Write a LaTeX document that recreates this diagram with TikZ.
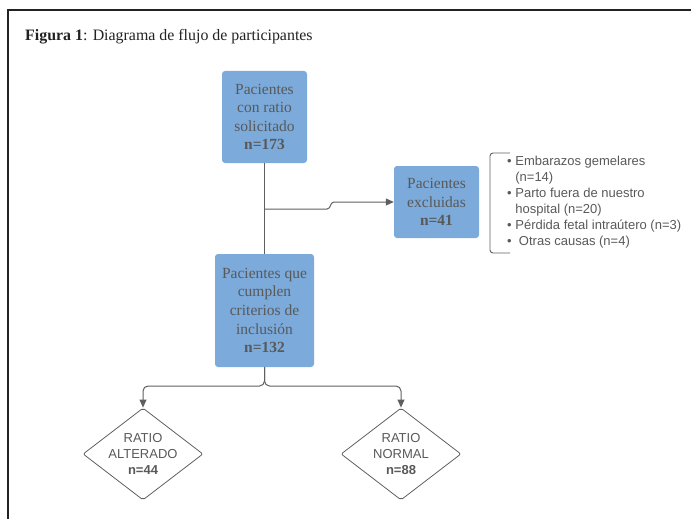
\documentclass[tikz,border=0pt]{standalone}
\usepackage{fontspec}
\setmainfont{Liberation Serif}
\setsansfont{Liberation Sans}
\usetikzlibrary{arrows.meta,positioning,shapes.geometric}
\definecolor{flowInk}{HTML}{222222}
\definecolor{flowBlue}{HTML}{7BAADB}
\definecolor{flowText}{HTML}{595959}
\definecolor{flowGray}{HTML}{5F5F5F}
\tikzset{
  every picture/.style={text=flowText},
  flow box/.style={fill=flowBlue, draw=none, rounded corners=3pt, align=center,
    inner sep=0pt, font=\rmfamily\fontsize{15.5}{18.6}\selectfont},
  flow diamond/.style={diamond, draw=flowGray, line width=0.8pt, rounded corners=2pt,
    inner sep=0pt, minimum width=120pt, minimum height=92pt},
  flow small/.style={font=\sffamily\fontsize{13}{16}\selectfont, align=center, text=flowText},
  flow line/.style={draw=flowGray, line width=1pt},
  flow arrow/.style={flow line, -{Triangle[length=8pt,width=7pt]}}
}
\begin{document}
\begin{tikzpicture}[x=1pt,y=-1pt]
  \useasboundingbox (0,0) rectangle (691,519);
  \draw[flowInk, line width=1.3pt] (8,519) -- (8,10) -- (691,10);
  \node[anchor=base west, text=flowInk, inner sep=0pt,
    font=\rmfamily\fontsize{15.9}{18}\selectfont] (title) at (25,41)
    {\textbf{Figura 1}: Diagrama de flujo de participantes};

  % boxes
  \node[flow box, minimum width=85pt, minimum height=92pt] (pac) at (264.5,117)
    {Pacientes\\con ratio\\solicitado\\\textbf{n=173}};
  \node[flow box, minimum width=85pt, minimum height=72pt] (exc) at (436.5,202)
    {Pacientes\\excluidas\\\textbf{n=41}};
  \node[flow box, minimum width=99pt, minimum height=113pt] (inc) at (264.5,310.5)
    {Pacientes que\\cumplen\\criterios de\\inclusión\\\textbf{n=132}};

  % reasons for exclusion
  \node[flow small, align=left, anchor=west, inner sep=0pt] (why) at (507,202.5)
    {\textbullet\ Embarazos gemelares\\
     \hphantom{\textbullet\ }(n=14)\\
     \textbullet\ Parto fuera de nuestro\\
     \hphantom{\textbullet\ }hospital (n=20)\\
     \textbullet\ Pérdida fetal intraútero (n=3)\\
     \textbullet\ \ Otras causas (n=4)};
  \draw[flow line, line width=0.9pt, rounded corners=3pt]
    ([xshift=3pt]why.west |- 0,153) -- (490,153) -- (490,253) -- ([xshift=3pt]why.west |- 0,253);

  % outcome groups
  \node[flow diamond] (alt) at (143,454) {};
  \node[flow small] at (alt) {RATIO\\ALTERADO\\\textbf{n=44}};
  \node[flow diamond] (nor) at (401,454) {};
  \node[flow small] at (nor) {RATIO\\NORMAL\\\textbf{n=88}};

  % connectors
  \draw[flow line] (pac.south) -- (inc.north);
  \coordinate (split) at (264.5,209);
  \draw[flow arrow] (split) -- (327,209) .. controls (331,209) and (330,202) .. (334,202) -- (exc.west);
  \coordinate (fork) at (264.5,386);
  \draw[flow arrow, rounded corners=5pt] (inc.south) -- (fork) -| (alt.north);
  \draw[flow arrow, rounded corners=5pt] (inc.south) -- (fork) -| (nor.north);
\end{tikzpicture}
\end{document}
